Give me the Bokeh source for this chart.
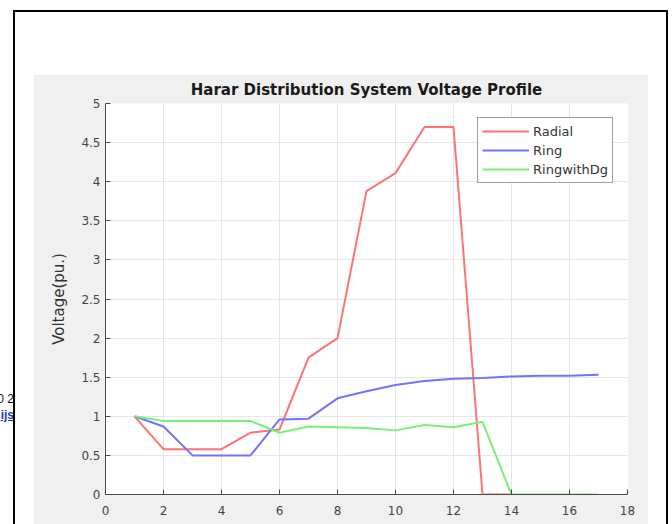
from bokeh.plotting import figure
from bokeh.models import FixedTicker, Legend, LegendItem, Div
from bokeh.layouts import row
from bokeh.embed import file_html
from bokeh.resources import INLINE

# ---- data ----
bus_radial = [1, 2, 3, 4, 5, 6, 7, 8, 9, 10, 11, 12, 13, 14]
radial = [1.0, 0.58, 0.58, 0.58, 0.79, 0.83, 1.75, 2.0, 3.88, 4.11, 4.7, 4.7, 0.0, 0.0]
bus_ring = [1, 2, 3, 4, 5, 6, 7, 8, 9, 10, 11, 12, 13, 14, 15, 16, 17]
ring = [1.0, 0.87, 0.5, 0.5, 0.5, 0.96, 0.97, 1.23, 1.32, 1.40, 1.45, 1.48, 1.49, 1.51, 1.52, 1.52, 1.53]
ring_dg = [1.0, 0.94, 0.94, 0.94, 0.94, 0.79, 0.87, 0.86, 0.85, 0.82, 0.89, 0.86, 0.93, 0.0, 0.0, 0.0, 0.0]
series_names = ["Radial", "Ring", "RingwithDg"]
x_ticks = [0, 2, 4, 6, 8, 10, 12, 14, 16, 18]
x_tick_labels = ["0", "2", "4", "6", "8", "10", "12", "14", "16", "18"]
y_ticks = [0, 0.5, 1, 1.5, 2, 2.5, 3, 3.5, 4, 4.5, 5]
y_tick_labels = ["0", "0.5", "1", "1.5", "2", "2.5", "3", "3.5", "4", "4.5", "5"]
title_text = "Harar Distribution System Voltage Profile"
y_label = "Voltage(pu.)"
stray_line1 = "0 2"
stray_line2 = "ijs"

FONT = "DejaVu Sans"
GREY_BG = "#f0f0f0"
AX = "#4a4a4a"

# figure covers the grey panel (page x 33..648, y 74..524)
PW, PH = 615, 450
p = figure(width=PW, height=PH, output_backend="svg", toolbar_location=None,
           x_range=(0, 18), y_range=(0, 5),
           min_border_left=72, min_border_right=21,
           min_border_top=29, min_border_bottom=30,
           border_fill_color=GREY_BG, background_fill_color="white",
           outline_line_color=None)
p.margin = (74, 0, 0, 19)
# white page + black frame of the screenshot around the grey panel
p.styles = {"box-shadow": "0 -44px 0 18px white, 0 0 0 18px white, "
                          "0 -44px 0 20px black, 0 0 0 20px black"}

# title
p.title.text = title_text
p.title.align = "center"
p.title.text_font = FONT
p.title.text_font_size = "15px"
p.title.text_font_style = "bold"
p.title.text_color = "#1a1a1a"
p.title.standoff = 9

# axes
for ax in (p.xaxis[0], p.yaxis[0]):
    ax.axis_line_color = AX
    ax.major_tick_line_color = AX
    ax.major_tick_in = 5
    ax.major_tick_out = 0
    ax.minor_tick_line_color = None
    ax.major_label_text_font = FONT
    ax.major_label_text_font_size = "12px"
    ax.major_label_text_color = "#444444"
p.xaxis.ticker = FixedTicker(ticks=x_ticks)
p.yaxis.ticker = FixedTicker(ticks=y_ticks)
p.xaxis.major_label_overrides = {t: s for t, s in zip(x_ticks, x_tick_labels)}
p.yaxis.major_label_overrides = {t: s for t, s in zip(y_ticks, y_tick_labels)}
p.xaxis.major_label_standoff = 11
p.yaxis.major_label_standoff = 5
p.yaxis.axis_label = y_label
p.yaxis.axis_label_text_font = FONT
p.yaxis.axis_label_text_font_size = "15px"
p.yaxis.axis_label_text_font_style = "normal"
p.yaxis.axis_label_text_color = "#333333"
p.yaxis.axis_label_standoff = 10

p.grid.grid_line_color = "#e6e6e6"
p.grid.grid_line_width = 1

# lines
r1 = p.line(bus_radial, radial, line_color="#ff7373", line_width=2)
r2 = p.line(bus_ring, ring, line_color="#7373ff", line_width=2)
r3 = p.line(bus_ring, ring_dg, line_color="#78f078", line_width=2)

legend = Legend(items=[LegendItem(label=n, renderers=[r]) for n, r in zip(series_names, [r1, r2, r3])],
                location="top_right", margin=14, padding=4, spacing=1,
                glyph_width=47, glyph_height=18, label_height=18, label_standoff=4,
                label_text_font=FONT, label_text_font_size="13px", label_text_color="#333333",
                border_line_color="#404040", border_line_width=1,
                background_fill_color="white", background_fill_alpha=1.0)
p.add_layout(legend, "center")

# fragments of the page text showing at the far left
stray = Div(width=14, height=524, margin=0, text=(
    '<div style="position:relative;width:14px;height:524px;overflow:hidden;'
    'font-family:\'Liberation Sans\';font-size:12px;">'
    f'<span style="position:absolute;right:0px;top:391px;white-space:nowrap;color:#111;">{stray_line1}</span>'
    f'<span style="position:absolute;right:0px;top:407px;white-space:nowrap;color:#1a3cb0;'
    f'font-weight:bold;text-decoration:underline;">{stray_line2}</span></div>'))

layout = row(stray, p)
open("out.html", "w").write(file_html(layout, INLINE))
